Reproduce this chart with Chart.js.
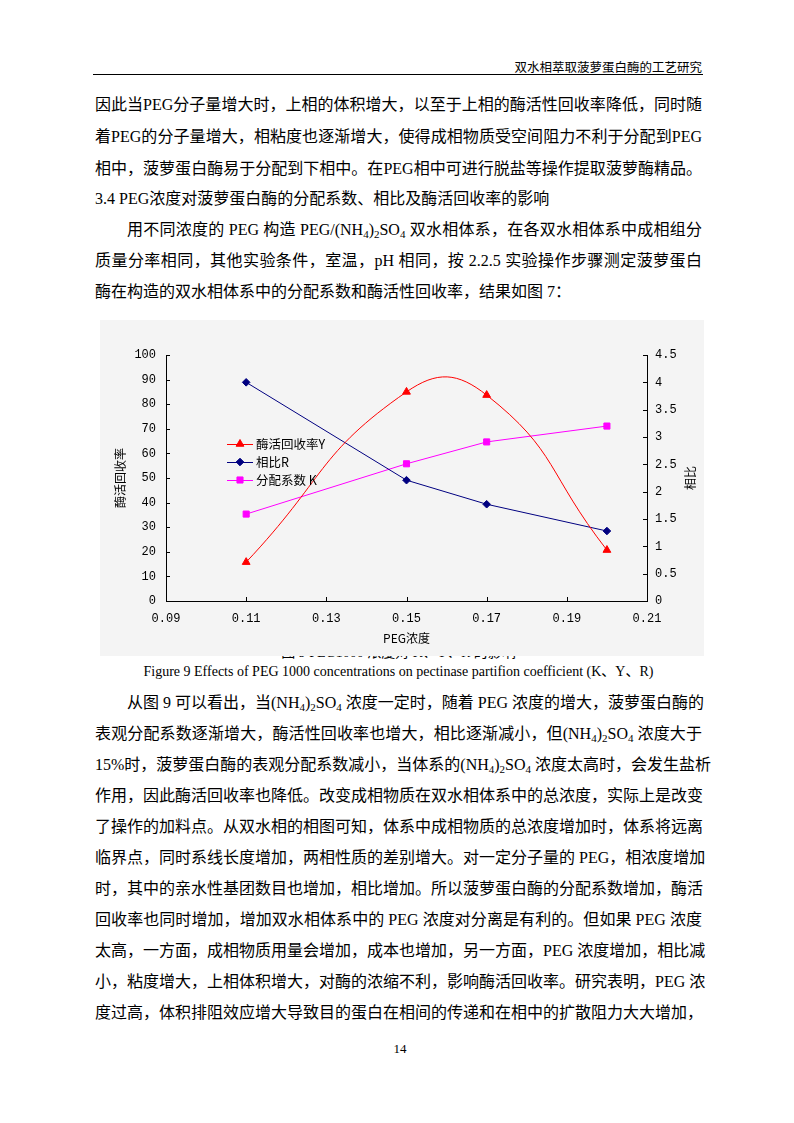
<!DOCTYPE html>
<html><head><meta charset="utf-8">
<script src="https://cdn.jsdelivr.net/npm/chart.js@4.4.1/dist/chart.umd.min.js"></script>
<style>
html,body{margin:0;padding:0;background:#fff;}
body{width:794px;height:1123px;position:relative;overflow:hidden;font-family:"Liberation Serif","Noto Sans CJK SC",serif;color:#000;}
.ln{position:absolute;left:95px;width:607px;height:22px;line-height:22px;font-size:16px;white-space:nowrap;}
.j{text-align:justify;text-align-last:justify;}
.ind{left:127px;width:575px;}
sub{font-size:11px;vertical-align:-3px;line-height:0;}
#hdr{position:absolute;right:92px;top:58px;font-family:"Noto Sans CJK SC";font-size:12.5px;line-height:18px;}
#rule{position:absolute;left:93px;top:74px;width:610px;height:1px;background:#000;}
#chartBox{position:absolute;left:100px;top:320px;width:604px;height:336px;z-index:2;}
#chartBox canvas{background:#f4f4f4;display:block;}
.cap{position:absolute;left:95px;width:607px;text-align:center;line-height:18px;}
#capcn{top:644px;font-size:14px;z-index:1;}
#capen{top:663px;font-size:14px;}
#pg{position:absolute;left:380px;width:40px;top:1040px;text-align:center;font-size:13px;line-height:18px;}
</style></head>
<body>
<div id="hdr">双水相萃取菠萝蛋白酶的工艺研究</div>
<div id="rule"></div>

<div class="ln j" style="top:94px">因此当PEG分子量增大时，上相的体积增大，以至于上相的酶活性回收率降低，同时随</div>
<div class="ln j" style="top:126px">着PEG的分子量增大，相粘度也逐渐增大，使得成相物质受空间阻力不利于分配到PEG</div>
<div class="ln j" style="top:158px">相中，菠萝蛋白酶易于分配到下相中。在PEG相中可进行脱盐等操作提取菠萝酶精品。</div>
<div class="ln" style="top:188px">3.4 PEG浓度对菠萝蛋白酶的分配系数、相比及酶活回收率的影响</div>
<div class="ln j ind" style="top:219px">用不同浓度的 PEG 构造 PEG/(NH<sub>4</sub>)<sub>2</sub>SO<sub>4</sub> 双水相体系，在各双水相体系中成相组分</div>
<div class="ln j" style="top:250px">质量分率相同，其他实验条件，室温，pH 相同，按 2.2.5 实验操作步骤测定菠萝蛋白</div>
<div class="ln" style="top:281px">酶在构造的双水相体系中的分配系数和酶活性回收率，结果如图 7：</div>

<div id="chartBox"><canvas id="c" width="604" height="336"></canvas></div>
<div class="cap" id="capcn">图 9 PEG1000 浓度对 K、Y、R 的影响</div>
<div class="cap" id="capen">Figure 9 Effects of PEG 1000 concentrations on pectinase partifion coefficient (K、Y、R)</div>

<div class="ln j ind" style="top:692px">从图 9 可以看出，当(NH<sub>4</sub>)<sub>2</sub>SO<sub>4</sub> 浓度一定时，随着 PEG 浓度的增大，菠萝蛋白酶的</div>
<div class="ln j" style="top:723px">表观分配系数逐渐增大，酶活性回收率也增大，相比逐渐减小，但(NH<sub>4</sub>)<sub>2</sub>SO<sub>4</sub> 浓度大于</div>
<div class="ln j" style="top:754px">15%时，菠萝蛋白酶的表观分配系数减小，当体系的(NH<sub>4</sub>)<sub>2</sub>SO<sub>4</sub> 浓度太高时，会发生盐析</div>
<div class="ln j" style="top:785px">作用，因此酶活回收率也降低。改变成相物质在双水相体系中的总浓度，实际上是改变</div>
<div class="ln j" style="top:816px">了操作的加料点。从双水相的相图可知，体系中成相物质的总浓度增加时，体系将远离</div>
<div class="ln j" style="top:847px">临界点，同时系线长度增加，两相性质的差别增大。对一定分子量的 PEG，相浓度增加</div>
<div class="ln j" style="top:878px">时，其中的亲水性基团数目也增加，相比增加。所以菠萝蛋白酶的分配系数增加，酶活</div>
<div class="ln j" style="top:909px">回收率也同时增加，增加双水相体系中的 PEG 浓度对分离是有利的。但如果 PEG 浓度</div>
<div class="ln j" style="top:940px">太高，一方面，成相物质用量会增加，成本也增加，另一方面，PEG 浓度增加，相比减</div>
<div class="ln j" style="top:971px">小，粘度增大，上相体积增大，对酶的浓缩不利，影响酶活回收率。研究表明，PEG 浓</div>
<div class="ln j" style="top:1002px">度过高，体积排阻效应增大导致目的蛋白在相间的传递和在相中的扩散阻力大大增加，</div>
<div id="pg">14</div>

<script>
// ---- data ----
const pegConc = [0.11, 0.15, 0.17, 0.20];
const recoveryY = [15.8, 85.0, 83.7, 20.7];      // left axis (%)
const phaseRatioR = [4.00, 2.21, 1.77, 1.28];    // right axis
const partitionK = [1.59, 2.51, 2.91, 3.20];     // right axis
const xTickValues = [0.09, 0.11, 0.13, 0.15, 0.17, 0.19, 0.21];
const seriesNames = ['酶活回收率Y', '相比R', '分配系数 K'];
const xTitle = 'PEG浓度';
const leftTitle = '酶活回收率';
const rightTitle = '相比';

const BG = '#f4f4f4';
const tickFont = {family: '"Liberation Mono", monospace', size: 12};
const cjkFont = {family: '"Noto Sans CJK SC", sans-serif', size: 12};
const legendFont = {family: '"Noto Sans CJK SC", sans-serif', size: 12.5};

const pairs = (xs, ys) => xs.map((x, i) => ({x: x, y: ys[i]}));

const insideTicks = {
  id: 'insideTicks',
  afterDraw(chart) {
    const ctx = chart.ctx;
    const {x, y, y1} = chart.scales;
    ctx.save();
    ctx.strokeStyle = '#000';
    ctx.lineWidth = 1;
    ctx.beginPath();
    x.ticks.forEach(t => {
      const px = Math.round(x.getPixelForValue(t.value)) + 0.5;
      ctx.moveTo(px, x.top); ctx.lineTo(px, x.top - 4);
    });
    y.ticks.forEach(t => {
      const py = Math.round(y.getPixelForValue(t.value)) + 0.5;
      ctx.moveTo(y.right, py); ctx.lineTo(y.right + 4, py);
    });
    y1.ticks.forEach(t => {
      const py = Math.round(y1.getPixelForValue(t.value)) + 0.5;
      ctx.moveTo(y1.left, py); ctx.lineTo(y1.left - 4, py);
    });
    ctx.stroke();
    // right axis title, rotated like the left one
    const ca = chart.chartArea;
    ctx.fillStyle = '#000';
    ctx.font = cjkFont.size + 'px ' + cjkFont.family;
    ctx.textAlign = 'center';
    ctx.textBaseline = 'middle';
    ctx.translate(590, (ca.top + ca.bottom) / 2);
    ctx.rotate(-Math.PI / 2);
    ctx.fillText(rightTitle, 0, 0);
    ctx.restore();
  }
};

const boxLegend = {
  id: 'boxLegend',
  afterDatasetsDraw(chart) {
    const ctx = chart.ctx;
    ctx.save();
    ctx.fillStyle = BG;
    ctx.fillRect(120, 117, 83, 53);
    chart.data.datasets.forEach((ds, i) => {
      const yy = 124 + i * 18;
      ctx.strokeStyle = ds.borderColor;
      ctx.lineWidth = 1;
      ctx.beginPath();
      ctx.moveTo(127, yy + 0.5); ctx.lineTo(153, yy + 0.5);
      ctx.stroke();
      ctx.fillStyle = ds.pointBackgroundColor;
      ctx.strokeStyle = ds.borderColor;
      Chart.helpers.drawPoint(ctx, {pointStyle: ds.pointStyle, radius: ds.pointRadius, borderWidth: 1, rotation: 0}, 140, yy);
      ctx.fillStyle = '#000';
      ctx.font = legendFont.size + 'px ' + legendFont.family;
      ctx.textAlign = 'left';
      ctx.textBaseline = 'middle';
      ctx.fillText(ds.label, 156, yy);
    });
    ctx.restore();
  }
};

new Chart(document.getElementById('c'), {
  type: 'line',
  data: {
    datasets: [
      {label: seriesNames[0], data: pairs(pegConc, recoveryY), yAxisID: 'y',
       borderColor: '#ff0000', backgroundColor: '#ff0000', pointBackgroundColor: '#ff0000',
       pointStyle: 'triangle', pointRadius: 4.5, borderWidth: 1, tension: 0.5},
      {label: seriesNames[1], data: pairs(pegConc, phaseRatioR), yAxisID: 'y1',
       borderColor: '#000080', backgroundColor: '#000080', pointBackgroundColor: '#000080',
       pointStyle: 'rectRot', pointRadius: 3.8, borderWidth: 1, tension: 0},
      {label: seriesNames[2], data: pairs(pegConc, partitionK), yAxisID: 'y1',
       borderColor: '#ff00ff', backgroundColor: '#ff00ff', pointBackgroundColor: '#ff00ff',
       pointStyle: 'rect', pointRadius: 4.3, borderWidth: 1, tension: 0}
    ]
  },
  options: {
    responsive: false,
    animation: false,
    devicePixelRatio: 1,
    layout: {padding: {top: 35, left: 0, right: 0, bottom: 0}},
    plugins: {legend: {display: false}, tooltip: {enabled: false}},
    elements: {point: {borderWidth: 1}},
    scales: {
      x: {
        type: 'linear', position: 'bottom', min: 0.09, max: 0.21,
        afterBuildTicks: s => { s.ticks = xTickValues.map(v => ({value: v})); },
        afterFit: s => { s.height = 55; },
        grid: {display: false, drawTicks: false},
        border: {display: true, color: '#000', width: 1},
        ticks: {font: tickFont, color: '#000', padding: 11, maxRotation: 0, autoSkip: false,
                callback: v => Number(v).toFixed(2)},
        title: {display: true, text: xTitle, font: cjkFont, color: '#000', padding: {top: 0, bottom: 10}}
      },
      y: {
        type: 'linear', position: 'left', min: 0, max: 100,
        afterFit: s => { s.width = 66; },
        grid: {display: false, drawTicks: false},
        border: {display: true, color: '#000', width: 1},
        ticks: {font: tickFont, color: '#000', padding: 10, stepSize: 10},
        title: {display: true, text: leftTitle, font: cjkFont, color: '#000', padding: {top: 13, bottom: 0}}
      },
      y1: {
        type: 'linear', position: 'right', min: 0, max: 4.5,
        afterFit: s => { s.width = 57; },
        grid: {display: false, drawTicks: false},
        border: {display: true, color: '#000', width: 1},
        ticks: {font: tickFont, color: '#000', padding: 8, stepSize: 0.5, callback: v => String(v)}
      }
    }
  },
  plugins: [boxLegend, insideTicks]
});
</script>
</body></html>
